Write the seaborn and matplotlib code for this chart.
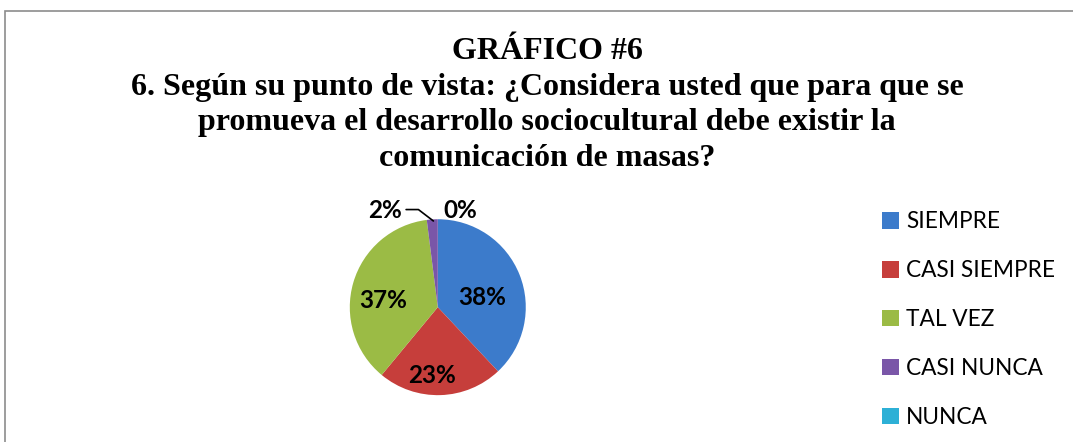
import seaborn as sns
import matplotlib.pyplot as plt
from matplotlib.patches import Rectangle

categorias = ["SIEMPRE", "CASI SIEMPRE", "TAL VEZ", "CASI NUNCA", "NUNCA"]
porcentajes = [38, 23, 37, 2, 0]
etiquetas = ["38%", "23%", "37%", "2%", "0%"]
colores = ["#3C7BCB", "#C63E3B", "#9BBB45", "#7A56A8", "#2DB0D6"]

sns.set_theme(style="white")
plt.rcParams['font.family'] = ['Lato', 'DejaVu Sans']

fig = plt.figure(figsize=(10.73, 4.42), dpi=100)

# borde gris del grafico
fig.patches.append(Rectangle((5/1073, -0.1), 1.2, 1 - 11/442 + 0.1,
                             transform=fig.transFigure, fill=False,
                             edgecolor="#8c8c8c", linewidth=1.2))

titulo = ("GRÁFICO #6\n6. Según su punto de vista: ¿Considera usted que para que se\n"
          "promueva el desarrollo sociocultural debe existir la\ncomunicación de masas?")
fig.text(547/1073, 1 - 37/442, titulo, ha="center", va="top", fontsize=23,
         fontweight="bold", family="Liberation Serif", linespacing=1.3,
         color="black")

ax = fig.add_axes([0.326, 0.106, 0.164, 0.398])
wedges, _ = ax.pie(porcentajes, colors=sns.color_palette(colores), startangle=90,
                   counterclock=False, radius=1,
                   wedgeprops=dict(linewidth=0))
ax.set_xlim(-1, 1)
ax.set_ylim(-1, 1)
ax.set_aspect("auto")

# etiquetas de porcentaje
pos = [(0.50, 0.11), (-0.07, -0.78), (-0.62, 0.08), (-0.60, 1.10), (0.25, 1.10)]
for (x, y), t in zip(pos, etiquetas):
    ax.text(x, y, t, ha="center", va="center", fontsize=17.5, fontweight="bold",
            color="black", clip_on=False)
# linea guia del 2%
ax.plot([-0.36, -0.22, -0.05], [1.11, 1.11, 0.98], color="black", lw=1.2,
        clip_on=False)

leg = fig.legend(wedges, categorias, loc="upper left",
                 bbox_to_anchor=(862/1073, 1 - 191/442), frameon=False,
                 fontsize=16.3, handlelength=0.75, handleheight=0.75,
                 handletextpad=0.3, labelspacing=1.23, labelcolor="black")

fig.savefig("out.png", dpi=100)
